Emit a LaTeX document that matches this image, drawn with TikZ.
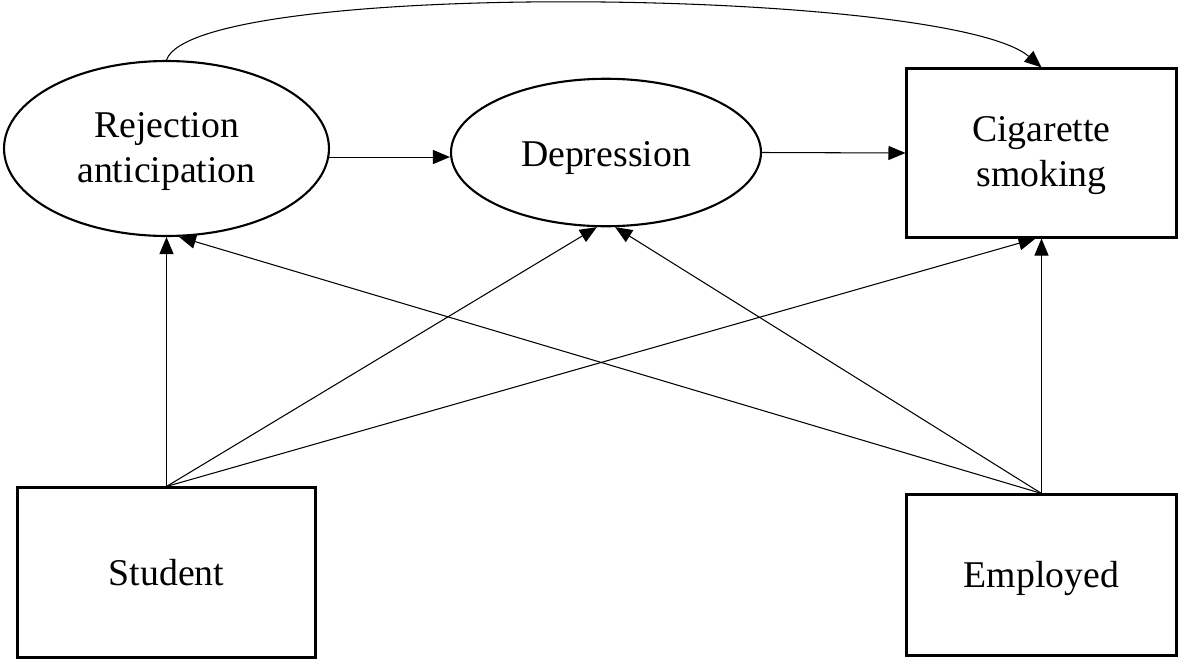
\documentclass[tikz,border=0pt]{standalone}
\usepackage{fontspec}
\setmainfont{Liberation Serif}
\usetikzlibrary{arrows.meta,shapes.geometric}

\begin{document}
\begin{tikzpicture}[x=0.02cm, y=-0.02cm,
        latent_style/.style={ellipse,draw=black,line width=1.2pt,inner sep=0pt,align=center,font=\fontsize{21.5}{25.5}\selectfont},
        observed_style/.style={rectangle,draw=black,line width=1.2pt,inner sep=0pt,align=center,font=\fontsize{21.5}{25.5}\selectfont},
        edge_style/.style={draw=black, line width=0.6pt,-{Triangle[length=3.4mm,width=2.8mm]}}]
        \useasboundingbox (0,0) rectangle (1181,663);

        \node [latent_style,minimum width=6.5cm,minimum height=3.5cm,text height=39pt,text depth=0pt](rejection) at (166.5,148.5) {Rejection\\anticipation};
        \node [latent_style,minimum width=6.2cm,minimum height=2.95cm,text height=15.4pt,text depth=0pt](depression) at (606,152.5) {Depression};
        \node [observed_style,minimum width=5.4cm,minimum height=3.38cm,text height=37.6pt,text depth=0pt](cigarette) at (1041.5,153) {Cigarette\\smoking};
        \node [observed_style,minimum width=5.96cm,minimum height=3.4cm,text height=14.6pt,text depth=0pt](student) at (166.5,572.5) {Student};
        \node [observed_style,minimum width=5.4cm,minimum height=3.22cm,text height=14.4pt,text depth=0pt](employed) at (1041.5,575) {Employed};

        \draw [edge_style] (rejection.-3) -- (rejection.-3 -| depression.west);
        \draw [edge_style] (depression.east) -- (cigarette.west);
        \draw [edge_style] (rejection.north) .. controls (195,-22) and (950,-12) .. (cigarette.north);
        % student paths
        \draw [edge_style] (student.north) -- (rejection.south);
        \draw [edge_style] (student.north) -- (depression.263);
        \draw [edge_style] (student.north) -- ([xshift=-1.2mm]cigarette.south);
        % employed paths
        \draw [edge_style] (employed.north) -- (cigarette.south);
        \draw [edge_style] (employed.north) -- (depression.277);
        \draw [edge_style] (employed.north) -- (rejection.278);
\end{tikzpicture}
\end{document}
